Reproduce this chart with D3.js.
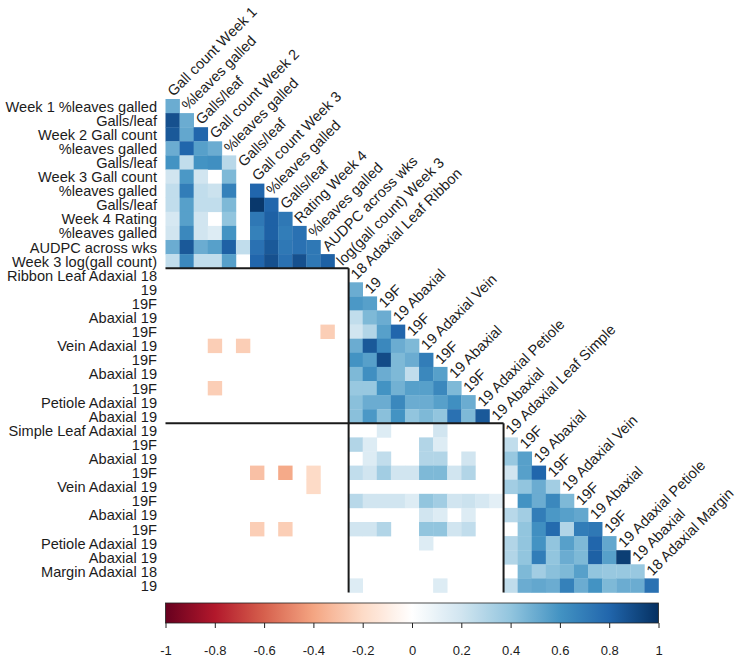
<!DOCTYPE html>
<html><head><meta charset="utf-8">
<script src="https://cdn.jsdelivr.net/npm/d3@7/dist/d3.min.js"></script>
<style>
body{margin:0;background:#fff}
svg text{font-family:"Liberation Sans",Arial,sans-serif;fill:#1c1c1c}
</style>
</head><body>
<svg id="chart" width="742" height="665"></svg>
<script>
const _ = null;
const rowLabels = [
  "Week 1 %leaves galled","Galls/leaf","Week 2 Gall count","%leaves galled","Galls/leaf",
  "Week 3 Gall count","%leaves galled","Galls/leaf","Week 4 Rating","%leaves galled",
  "AUDPC across wks","Week 3 log(gall count)","Ribbon Leaf Adaxial 18","19","19F",
  "Abaxial 19","19F","Vein Adaxial 19","19F","Abaxial 19","19F","Petiole Adaxial 19",
  "Abaxial 19","Simple Leaf Adaxial 19","19F","Abaxial 19","19F","Vein Adaxial 19","19F",
  "Abaxial 19","19F","Petiole Adaxial 19","Abaxial 19","Margin Adaxial 18","19"
];
const colLabels = [
  "Gall count Week 1","%leaves galled","Galls/leaf","Gall count Week 2","%leaves galled",
  "Galls/leaf","Gall count Week 3","%leaves galled","Galls/leaf","Rating Week 4",
  "%leaves galled","AUDPC across wks","log(gall count) Week 3","18 Adaxial Leaf Ribbon","19",
  "19F","19 Abaxial","19F","19 Adaxial Vein","19F","19 Abaxial","19F","19 Adaxial Petiole",
  "19 Abaxial","19 Adaxial Leaf Simple","19F","19 Abaxial","19F","19 Adaxial Vein","19F",
  "19 Abaxial","19F","19 Adaxial Petiole","19 Abaxial","18 Adaxial Margin"
];
// lower-triangle correlations: row i holds columns 1..i (null = blank)
const corr = [
  [0.5],
  [0.88,0.5],
  [0.85,0.52,0.8],
  [0.5,0.8,0.55,0.5],
  [0.6,0.25,0.6,0.62,0.28],
  [0.2,0.58,0.2,_,0.45,_],
  [0.25,0.7,0.25,0.22,0.68,_,0.8],
  [0.25,0.55,0.25,0.25,0.45,_,0.97,0.8],
  [0.18,0.55,0.2,_,0.4,_,0.72,0.82,0.72],
  [0.2,0.65,0.2,0.15,0.6,_,0.68,0.82,0.7,0.75],
  [0.5,0.85,0.5,0.55,0.82,0.25,0.75,0.85,0.72,0.75,0.72],
  [0.25,0.65,0.25,0.25,0.55,_,0.8,0.88,0.75,0.88,0.72,0.82],
  // Ribbon
  [_,_,_,_,_,_,_,_,_,_,_,_,_],
  [_,_,_,_,_,_,_,_,_,_,_,_,_, 0.5],
  [_,_,_,_,_,_,_,_,_,_,_,_,_, 0.58,0.55],
  [_,_,_,_,_,_,_,_,_,_,_,_,_, 0.25,0.45,0.5],
  [_,_,_,_,_,_,_,_,_,_,_,-0.25,_, 0.2,0.3,0.55,0.8],
  [_,_,_,-0.25,_,-0.25,_,_,_,_,_,_,_, 0.5,0.85,0.65,0.5,0.45],
  [_,_,_,_,_,_,_,_,_,_,_,_,_, 0.6,0.55,0.9,0.45,0.5,0.7],
  [_,_,_,_,_,_,_,_,_,_,_,_,_, 0.45,0.62,0.5,0.45,0.25,0.65,0.55],
  [_,_,_,-0.25,_,_,_,_,_,_,_,_,_, 0.38,0.38,0.6,0.48,0.55,0.55,0.65,0.45],
  [_,_,_,_,_,_,_,_,_,_,_,_,_, 0.42,0.5,0.5,0.65,0.5,0.5,0.55,0.62,0.5],
  [_,_,_,_,_,_,_,_,_,_,_,_,_, 0.42,0.58,0.42,0.6,0.4,0.45,0.4,0.75,0.45,0.85],
  // Simple leaf + margin
  [_,_,_,_,_,_,_,_,_,_,_,_,_, _,_,0.15,_,_,_,0.2,_,_,_,_],
  [_,_,_,_,_,_,_,_,_,_,_,_,_, 0.3,0.15,_,_,_,0.3,0.15,_,_,_,_, 0.25],
  [_,_,_,_,_,_,_,_,_,_,_,_,_, _,0.15,0.25,_,_,0.3,0.3,_,0.2,_,_, 0.38,0.55],
  [_,_,_,_,_,_,-0.3,_,-0.38,_,-0.2,_,_, 0.25,0.2,0.35,0.2,0.2,0.45,0.45,0.2,0.3,_,_, 0.2,0.55,0.8],
  [_,_,_,_,_,_,_,_,_,_,-0.2,_,_, _,_,_,_,_,_,_,_,_,_,_, 0.35,0.4,0.5,0.35],
  [_,_,_,_,_,_,_,_,_,_,_,_,_, 0.28,0.2,0.2,0.2,0.15,0.4,0.35,0.2,0.22,0.18,0.12, _,0.6,0.5,0.65,0.45],
  [_,_,_,_,_,_,_,_,_,_,_,_,_, _,_,_,_,_,0.2,0.15,_,0.15,_,_, 0.28,0.35,0.7,0.58,0.55,0.52],
  [_,_,_,_,_,_,-0.25,_,-0.25,_,_,_,_, 0.2,0.2,0.3,_,_,0.4,0.4,0.2,0.25,_,_, _,0.4,0.62,0.78,0.3,0.7,0.72],
  [_,_,_,_,_,_,_,_,_,_,_,_,_, _,_,_,_,_,0.15,_,_,_,_,_, 0.3,0.4,0.6,0.4,0.55,0.45,0.8,0.52],
  [_,_,_,_,_,_,_,_,_,_,_,_,_, _,_,_,_,_,_,_,_,_,_,_, 0.3,0.4,0.7,0.4,0.5,0.45,0.82,0.55,0.95],
  [_,_,_,_,_,_,_,_,_,_,_,_,_, _,_,_,_,_,_,_,_,_,_,_, _,0.45,0.35,0.42,0.45,0.55,0.4,0.38,0.38,0.38],
  [_,_,_,_,_,_,_,_,_,_,_,_,_, 0.15,_,_,_,_,_,0.15,_,_,_,_, 0.25,0.5,0.52,0.5,0.68,0.5,0.6,0.45,0.5,0.5,0.75]
];
const groupEnds = [13, 24];
const legendTicks = [-1,-0.8,-0.6,-0.4,-0.2,0,0.2,0.4,0.6,0.8,1];
const paletteStops = ["#67001F","#B2182B","#D6604D","#F4A582","#FDDBC7","#FFFFFF","#D1E5F0","#92C5DE","#4393C3","#2166AC","#053061"];

const svg = d3.select("#chart");
const n = colLabels.length;
const x = d3.scaleBand().domain(d3.range(n)).range([165.5, 658.5]).paddingInner(0);
const y = d3.scaleBand().domain(d3.range(n)).range([99, 592.5]).paddingInner(0);
const color = d3.scaleLinear().domain(legendTicks).range(paletteStops).interpolate(d3.interpolateRgb).clamp(true);

const cells = [];
corr.forEach((row, i) => row.forEach((v, j) => { if (v !== null) cells.push({i, j, v}); }));

svg.append("g").selectAll("rect").data(cells).join("rect")
  .attr("x", d => x(d.j)).attr("y", d => y(d.i))
  .attr("width", x.bandwidth() + 0.3).attr("height", y.bandwidth() + 0.3)
  .attr("fill", d => color(d.v));

// row labels
svg.append("g").selectAll("text").data(rowLabels).join("text")
  .attr("x", 157).attr("y", (d, i) => y(i) + y.bandwidth() / 2 + 5.5)
  .attr("text-anchor", "end").style("font-size", "14.6px").text(d => d);

// column labels (diagonal)
svg.append("g").selectAll("text").data(colLabels).join("text")
  .attr("transform", (d, j) => `translate(${x(j) + x.bandwidth() / 2 + 1},${y(j) - 2}) rotate(-45)`)
  .attr("x", 0).attr("y", 0)
  .style("font-size", "14.6px").text(d => d);

// group rectangles
const bottom = y.range()[1];
const lines = svg.append("g").attr("stroke", "#1a1a1a").attr("stroke-width", 2).attr("fill", "none");
groupEnds.forEach(g => {
  lines.append("line").attr("x1", x(0)).attr("x2", x(g)).attr("y1", y(g - 1)).attr("y2", y(g - 1));
  lines.append("line").attr("x1", x(g)).attr("x2", x(g)).attr("y1", y(g - 1)).attr("y2", bottom);
});

// color legend
const lx = d3.scaleLinear().domain([-1, 1]).range(x.range());
const defs = svg.append("defs");
const grad = defs.append("linearGradient").attr("id", "cbar").attr("x1", "0%").attr("x2", "100%");
d3.range(0, 1.0001, 0.02).forEach(t => {
  grad.append("stop").attr("offset", (t * 100) + "%").attr("stop-color", color(-1 + 2 * t));
});
const barTop = 603, barH = 20;
svg.append("rect").attr("x", lx(-1)).attr("y", barTop).attr("width", lx(1) - lx(-1)).attr("height", barH)
  .attr("fill", "url(#cbar)").attr("stroke", "#222").attr("stroke-width", 0.8);
const axis = d3.axisBottom(lx).tickValues(legendTicks).tickSize(5).tickPadding(18)
  .tickFormat(d => d === 0 ? "0" : String(d).replace(/^(-?)0\./, "$10."));
const ag = svg.append("g").attr("transform", `translate(0,${barTop + barH})`).call(axis);
ag.select(".domain").remove();
ag.selectAll("line").attr("stroke", "#222");
ag.selectAll("text").style("font-size", "13px").style("font-family", '"Liberation Sans",Arial,sans-serif').attr("fill", "#1c1c1c");
</script>
</body></html>
